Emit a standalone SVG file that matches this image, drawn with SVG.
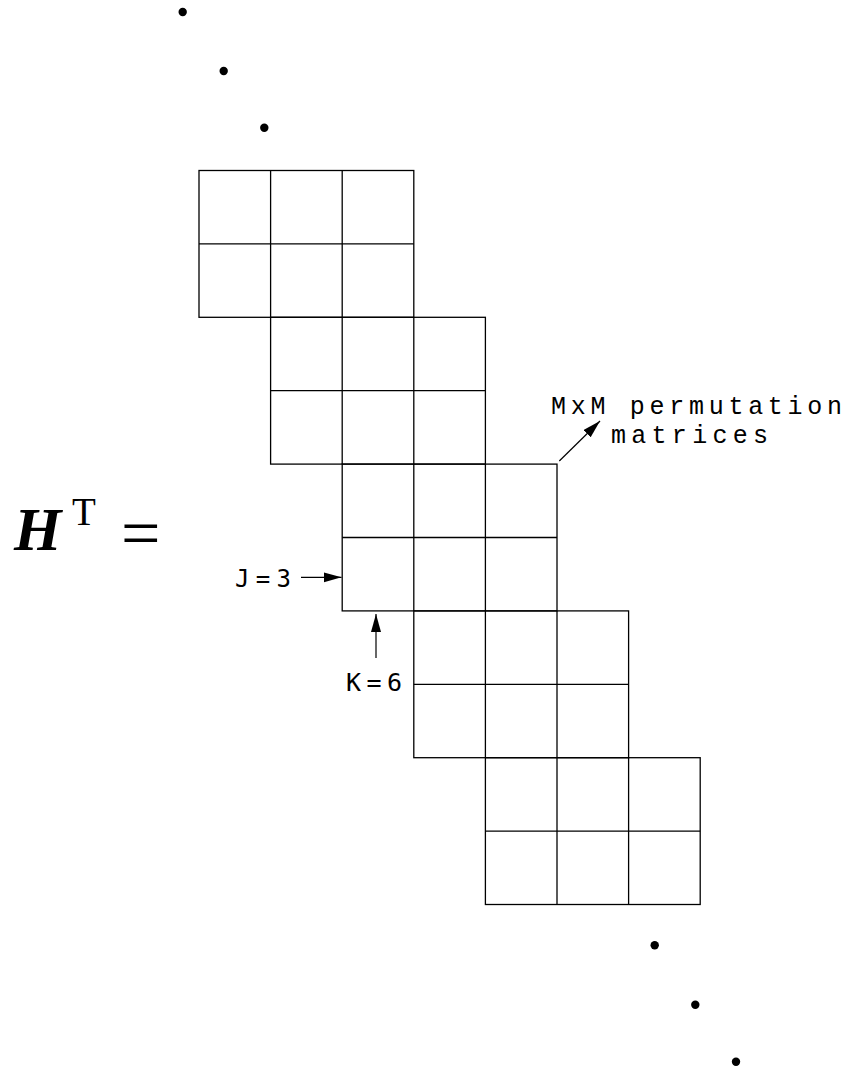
<svg xmlns="http://www.w3.org/2000/svg" width="849" height="1071" viewBox="0 0 849 1071">
<style>
.grid rect, .grid line { fill: none; stroke: #000; stroke-width: 1.3; }
.dot { fill: #000; }
.conn { stroke: #000; stroke-width: 1.2; fill: none; }
.mono { font-family: "DejaVu Sans Mono", monospace; fill: #000; }
.courier { font-family: "Liberation Mono", "Courier New", monospace; fill: #000; font-size: 25px; }
.serif { font-family: "Liberation Serif", "Times New Roman", serif; fill: #000; }
</style>
<defs>
<marker id="arr" markerUnits="userSpaceOnUse" markerWidth="20" markerHeight="12" refX="18" refY="5" orient="auto">
<path d="M0,0 L18,5 L0,10 Z" fill="#000"/>
</marker>
</defs>
<rect width="849" height="1071" fill="#fff"/>

<g id="dots">
<circle class="dot" cx="182.7" cy="12" r="4.2"/>
<circle class="dot" cx="223.7" cy="71" r="4.2"/>
<circle class="dot" cx="264.3" cy="127.7" r="4.2"/>
<circle class="dot" cx="654.7" cy="945.3" r="4.2"/>
<circle class="dot" cx="695.3" cy="1004.7" r="4.2"/>
<circle class="dot" cx="736" cy="1061.7" r="4.2"/>
</g>

<g id="label-HT">
<text class="serif" x="14" y="550" font-size="61" font-weight="bold" font-style="italic">H</text>
<text class="serif" x="72" y="525" font-size="39">T</text>
<text class="serif" x="121" y="557" font-size="70">=</text>
</g>

<g id="block1" class="grid">
<rect x="199" y="170.5" width="214.8" height="146.8"/>
<line x1="270.6" y1="170.5" x2="270.6" y2="317.3"/>
<line x1="342.2" y1="170.5" x2="342.2" y2="317.3"/>
<line x1="199" y1="243.9" x2="413.8" y2="243.9"/>
</g>
<g id="block2" class="grid">
<rect x="270.6" y="317.3" width="214.8" height="146.8"/>
<line x1="342.2" y1="317.3" x2="342.2" y2="464.1"/>
<line x1="413.8" y1="317.3" x2="413.8" y2="464.1"/>
<line x1="270.6" y1="390.7" x2="485.4" y2="390.7"/>
</g>
<g id="block3" class="grid">
<rect x="342.2" y="464.1" width="214.8" height="146.8"/>
<line x1="413.8" y1="464.1" x2="413.8" y2="610.9"/>
<line x1="485.4" y1="464.1" x2="485.4" y2="610.9"/>
<line x1="342.2" y1="537.5" x2="557" y2="537.5"/>
</g>
<g id="block4" class="grid">
<rect x="413.8" y="610.9" width="214.8" height="146.8"/>
<line x1="485.4" y1="610.9" x2="485.4" y2="757.7"/>
<line x1="557" y1="610.9" x2="557" y2="757.7"/>
<line x1="413.8" y1="684.3" x2="628.6" y2="684.3"/>
</g>
<g id="block5" class="grid">
<rect x="485.4" y="757.7" width="214.8" height="146.8"/>
<line x1="557" y1="757.7" x2="557" y2="904.5"/>
<line x1="628.6" y1="757.7" x2="628.6" y2="904.5"/>
<line x1="485.4" y1="831.1" x2="700.2" y2="831.1"/>
</g>

<g id="label-J">
<text class="mono" x="235" y="587" font-size="24" textLength="56" lengthAdjust="spacing">J=3</text>
</g>
<g id="label-K">
<text class="mono" x="346" y="691" font-size="25" textLength="56" lengthAdjust="spacing">K=6</text>
</g>
<g id="label-MxM">
<text class="courier" x="551" y="414" textLength="291" lengthAdjust="spacing">MxM permutation</text>
<text class="courier" x="611" y="443" textLength="157" lengthAdjust="spacing">matrices</text>
</g>

<g id="connectors">
<line class="conn" x1="301" y1="577.3" x2="341.5" y2="577.3" marker-end="url(#arr)"/>
<line class="conn" x1="376" y1="658" x2="376" y2="614" marker-end="url(#arr)"/>
<line class="conn" x1="559.3" y1="461" x2="600" y2="421" marker-end="url(#arr)"/>
</g>
</svg>
